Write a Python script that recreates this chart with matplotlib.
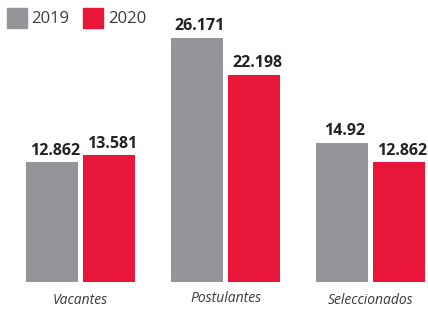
import numpy as np
import matplotlib.pyplot as plt
from matplotlib.patches import Rectangle

categories = ["Vacantes", "Postulantes", "Seleccionados"]
years = ["2019", "2020"]
values_2019 = [12.862, 26.171, 14.92]
values_2020 = [13.581, 22.198, 12.862]
labels_2019 = ["12.862", "26.171", "14.92"]
labels_2020 = ["13.581", "22.198", "12.862"]

GRAY = "#939598"
RED = "#E8173A"
TEXT = "#3a3a3a"
W, H = 428, 311

fig = plt.figure(figsize=(W / 100, H / 100), dpi=100)
ax = fig.add_axes([0, 29 / H, 1, 282 / H])

x = np.arange(len(categories))
width = 0.36
offset = 0.197

bars1 = ax.bar(x - offset, values_2019, width, color=GRAY)
bars2 = ax.bar(x + offset, values_2020, width, color=RED)

for bars, labels in ((bars1, labels_2019), (bars2, labels_2020)):
    for b, lab in zip(bars, labels):
        ax.text(b.get_x() + b.get_width() / 2 + 0.02, b.get_height() + 0.35, lab,
                ha="center", va="bottom", fontsize=11.5, fontweight="bold",
                family="Open Sans", color="#222222")

ax.set_xlim(-0.555, 2.397)
ax.set_ylim(0, 30.2)
ax.axis("off")

for i, cat in enumerate(categories):
    y = 10 if i != 1 else 13
    fig.text((80.5 + 145 * i) / W, y / H, cat,
             ha="center", va="center", fontsize=10, style="italic",
             family="Open Sans", color=TEXT)

# legend drawn by hand: squares + year text
for (sx, tx), col, yr in zip(((7, 31), (83, 108)), (GRAY, RED), years):
    fig.patches.append(Rectangle((sx / W, 1 - 28 / H), 20 / W, 20 / H,
                                 color=col, transform=fig.transFigure))
    fig.text(tx / W, 1 - 19 / H, yr, ha="left", va="center",
             fontsize=12, family="Open Sans", color=TEXT)

fig.savefig("out.png", dpi=100)
